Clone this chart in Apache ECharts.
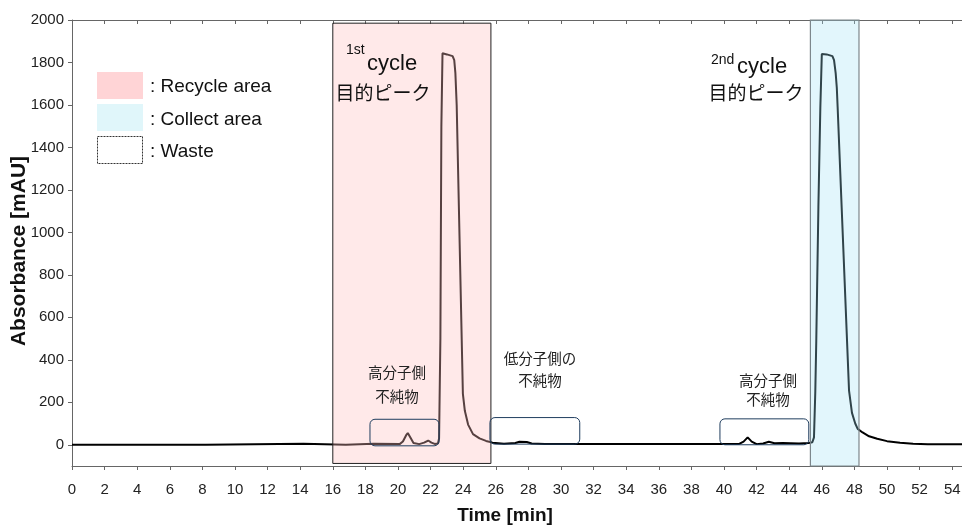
<!DOCTYPE html>
<html>
<head>
<meta charset="utf-8">
<script src="https://cdn.jsdelivr.net/npm/echarts@6/dist/echarts.min.js"></script>
<style>html,body{margin:0;padding:0;background:#fff;}#c{width:962px;height:527px;}</style>
</head>
<body>
<div id="c"></div>
<script>
// ---- data ----
const timeMin = [0,8.2,8.3,14.2,14.3,16.8,16.9,18.5,20.1,20.3,20.5,20.6,20.75,20.95,21.3,21.6,21.85,22.05,22.25,22.45,22.52,22.6,22.66,22.73,23.0,23.35,23.45,23.52,23.6,23.98,24.1,24.3,24.6,25.0,25.4,25.8,26.5,27.2,27.45,27.9,28.2,29.0,35.0,40.9,41.2,41.45,41.7,42.0,42.4,42.75,43.1,43.6,44.6,45.2,45.42,45.52,45.6,45.66,45.79,45.91,46.0,46.3,46.65,46.75,46.85,46.92,46.97,47.67,47.85,48.05,48.2,48.5,48.9,49.4,50.0,50.8,51.6,52.5,54.6];
const absorbance = [0,0,5,5,0,0,5,5,3,15,45,55,35,8,3,10,20,10,4,6,30,500,1500,1843,1838,1830,1811,1750,1600,240,160,95,50,30,18,10,5,8,14,13,6,4,3,3,15,35,15,3,6,14,7,8,6,8,12,35,250,490,1120,1590,1840,1838,1830,1811,1750,1680,1590,255,150,100,75,58,40,28,17,9,5,2,2];
const xTickLabels = [0,2,4,6,8,10,12,14,16,18,20,22,24,26,28,30,32,34,36,38,40,42,44,46,48,50,52,54];
const yTickLabels = [0,200,400,600,800,1000,1200,1400,1600,1800,2000];
// shaded regions: [tStart, tEnd, yBottom, yTop]
const recycleArea = [16.0, 25.7, -88, 1985];
const collectArea = [45.3, 48.28, -100, 2000];
// waste boxes (impurities)
const wasteBoxes = [[18.28, 22.52, -5, 120], [25.64, 31.15, 3, 128], [39.75, 45.2, 0, 122]];

const curve = timeMin.map((t, i) => [t, absorbance[i]]);

const narrow = "'Liberation Sans Narrow','Arial Narrow','Liberation Sans',sans-serif";
const sans = "'Liberation Sans',Arial,sans-serif";
const jp = "'Noto Sans CJK JP','Noto Sans CJK SC',sans-serif";

function rectRender(styleFn) {
  return function (params, api) {
    const a = api.coord([api.value(0), api.value(3)]);
    const b = api.coord([api.value(1), api.value(2)]);
    const s = styleFn(params.dataIndex);
    return {
      type: 'rect',
      shape: { x: a[0], y: a[1], width: b[0] - a[0], height: b[1] - a[1], r: s.r || 0 },
      style: { fill: s.fill, stroke: s.stroke, lineWidth: s.lineWidth }
    };
  };
}

function txt(x, y, text, font, extra) {
  return Object.assign({ type: 'text', x: x, y: y, z: 100, zlevel: 1,
    style: Object.assign({ text: text, font: font, fill: '#111', verticalAlign: 'middle' }, extra || {}) });
}

const chart = echarts.init(document.getElementById('c'), null, { renderer: 'canvas' });
chart.setOption({
  animation: false,
  backgroundColor: '#fff',
  grid: { left: 72, right: 0, top: 20, bottom: 61, containLabel: false, outerBoundsMode: 'none' },
  xAxis: [{
    type: 'value', min: 0, max: 54.6, position: 'bottom',
    axisLine: { show: true, onZero: false, lineStyle: { color: '#666', width: 1 } },
    axisTick: { show: true, inside: false, length: 4, customValues: xTickLabels, lineStyle: { color: '#666' } },
    axisLabel: { customValues: xTickLabels, fontFamily: sans, fontSize: 15, color: '#222', margin: 16, formatter: v => String(v) },
    splitLine: { show: false }
  }, {
    type: 'value', min: 0, max: 54.6, position: 'top',
    axisLine: { show: true, onZero: false, lineStyle: { color: '#666', width: 1 } },
    axisTick: { show: true, inside: true, length: 4, customValues: xTickLabels, lineStyle: { color: '#666' } },
    axisLabel: { show: false },
    splitLine: { show: false }
  }],
  yAxis: [{
    type: 'value', min: -100, max: 2000,
    axisLine: { show: true, onZero: false, lineStyle: { color: '#666', width: 1 } },
    axisTick: { show: true, inside: false, length: 4, customValues: yTickLabels, lineStyle: { color: '#666' } },
    axisLabel: { customValues: yTickLabels, fontFamily: sans, fontSize: 15, color: '#222', margin: 8, formatter: v => String(v) },
    splitLine: { show: false }
  }],
  series: [{
    type: 'line', data: curve, showSymbol: false, z: 2,
    lineStyle: { color: '#000', width: 2 }
  }, {
    type: 'custom', z: 3, clip: false,
    encode: { x: [0, 1], y: [2, 3] },
    data: [recycleArea],
    renderItem: rectRender(() => ({ fill: 'rgba(255,190,190,0.34)', stroke: '#222', lineWidth: 1 }))
  }, {
    type: 'custom', z: 3, clip: false,
    encode: { x: [0, 1], y: [2, 3] },
    data: [collectArea],
    renderItem: rectRender(() => ({ fill: 'rgba(160,224,245,0.30)', stroke: '#7d878c', lineWidth: 1.2 }))
  }, {
    type: 'custom', z: 4, clip: false,
    encode: { x: [0, 1], y: [2, 3] },
    data: wasteBoxes,
    renderItem: rectRender(() => ({ fill: 'none', stroke: '#1f3d5e', lineWidth: 1, r: 5 }))
  }],
  graphic: [
    // legend
    { type: 'rect', x: 97, y: 72, z: 100, zlevel: 1, shape: { width: 46, height: 27 }, style: { fill: '#ffd4d6' } },
    { type: 'rect', x: 97, y: 104, z: 100, zlevel: 1, shape: { width: 46, height: 27 }, style: { fill: '#e0f6fa' } },
    { type: 'rect', x: 97, y: 136, z: 100, zlevel: 1, shape: { x: 0.5, y: 0.5, width: 45, height: 27 }, style: { fill: 'none', stroke: '#333', lineWidth: 1, lineDash: [2, 1] } },
    txt(150, 87, ': Recycle area', '19px ' + sans),
    txt(150, 120, ': Collect area', '19px ' + sans),
    txt(150, 152, ': Waste', '19px ' + sans),
    // cycle labels
    txt(346, 50, '1st', '14px ' + sans),
    txt(367, 64, 'cycle', '22px ' + sans),
    txt(383, 93, '目的ピーク', '19px ' + jp, { align: 'center' }),
    txt(711, 60, '2nd', '14px ' + sans),
    txt(737, 67, 'cycle', '22px ' + sans),
    txt(756, 93, '目的ピーク', '19px ' + jp, { align: 'center' }),
    // impurity labels
    txt(397, 372, '高分子側', '14.5px ' + jp, { align: 'center', fill: '#222' }),
    txt(397, 396, '不純物', '14.5px ' + jp, { align: 'center', fill: '#222' }),
    txt(540, 358, '低分子側の', '14.5px ' + jp, { align: 'center', fill: '#222' }),
    txt(540, 380, '不純物', '14.5px ' + jp, { align: 'center', fill: '#222' }),
    txt(768, 380, '高分子側', '14.5px ' + jp, { align: 'center', fill: '#222' }),
    txt(768, 399, '不純物', '14.5px ' + jp, { align: 'center', fill: '#222' }),
    // axis titles
    Object.assign(txt(19, 251, 'Absorbance [mAU]', 'bold 21px ' + sans, { align: 'center' }), { rotation: Math.PI / 2 }),
    txt(505, 516, 'Time [min]', 'bold 19px ' + sans, { align: 'center' })
  ]
});
</script>
</body>
</html>
